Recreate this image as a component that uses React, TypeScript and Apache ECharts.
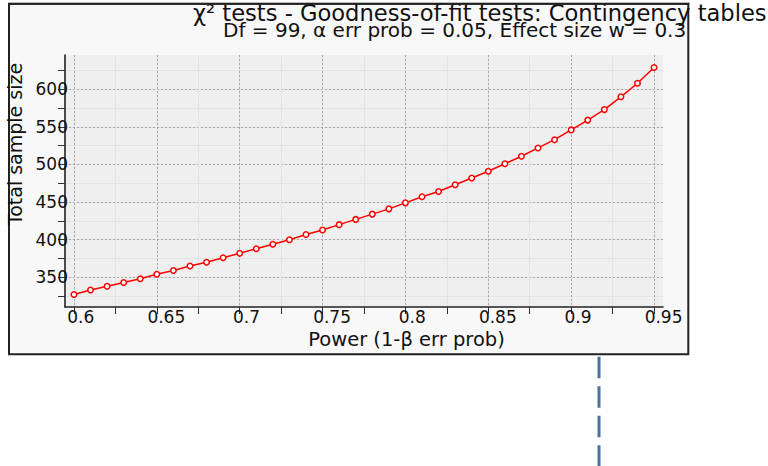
import React, { useEffect, useRef } from 'react';
import * as echarts from 'echarts';

const powerValues = [
  0.6, 0.61, 0.62, 0.63, 0.64, 0.65, 0.66, 0.67, 0.68, 0.69, 0.7, 0.71,
  0.72, 0.73, 0.74, 0.75, 0.76, 0.77, 0.78, 0.79, 0.8, 0.81, 0.82, 0.83,
  0.84, 0.85, 0.86, 0.87, 0.88, 0.89, 0.9, 0.91, 0.92, 0.93, 0.94, 0.95,
];
const sampleSizes = [
  327, 333, 338, 343, 348, 354, 359, 365, 370, 376, 382, 388,
  394, 400, 407, 413, 420, 427, 434, 441, 449, 457, 464, 473,
  482, 491, 501, 511, 522, 533, 546, 559, 573, 590, 608, 629,
];
const xTickLabels = ['0.6', '0.65', '0.7', '0.75', '0.8', '0.85', '0.9', '0.95'];
const xMinorTicks = [0.625, 0.675, 0.725, 0.775, 0.825, 0.875, 0.925];
const yTickLabels = ['350', '400', '450', '500', '550', '600'];
const yMinorTicks = [325, 375, 425, 475, 525, 575, 625];
const xRange = [0.5946, 0.9554];
const yRange = [310.5, 645.6];

const titleLine1 = 'χ² tests - Goodness-of-fit tests: Contingency tables';
const titleLine2 = 'Df = 99, α err prob = 0.05, Effect size w = 0.3';
const xAxisTitle = 'Power (1-β err prob)';
const yAxisTitle = 'Total sample size';

const FONT = 'DejaVu Sans';

export default function App() {
  const ref = useRef<HTMLDivElement>(null);
  useEffect(() => {
    if (!ref.current) return;
    const chart = echarts.init(ref.current, null, { renderer: 'svg' });
    const xMajor = xTickLabels.map((s) => parseFloat(s));
    const yMajor = yTickLabels.map((s) => parseFloat(s));
    const xAll = [...xMajor, ...xMinorTicks].sort((a, b) => a - b);
    const yAll = [...yMajor, ...yMinorTicks].sort((a, b) => a - b);
    const labelOf = (labels: string[], v: number) => {
      const f = labels.find((l) => Math.abs(parseFloat(l) - v) < 1e-9);
      return f !== undefined ? f : String(v);
    };
    const tickFont = { fontFamily: FONT, fontSize: 17, color: '#111' };

    chart.setOption({
      animation: false,
      backgroundColor: '#ffffff',
      title: [
        {
          text: titleLine1,
          left: 193,
          top: 5.2,
          padding: 0,
          textStyle: { fontFamily: FONT, fontSize: 22.6, fontWeight: 'normal', color: '#111', lineHeight: 16 },
        },
        {
          text: titleLine2,
          left: 223,
          top: 22.4,
          padding: 0,
          textStyle: { fontFamily: FONT, fontSize: 20, fontWeight: 'normal', color: '#111', lineHeight: 16 },
        },
      ],
      grid: {
        left: 65,
        top: 55,
        right: 105,
        bottom: 159,
        show: true,
        backgroundColor: '#efefef',
        borderWidth: 0,
        containLabel: false,
        outerBoundsMode: 'none',
      },
      xAxis: [
        {
          type: 'value',
          min: xRange[0],
          max: xRange[1],
          position: 'bottom',
          name: xAxisTitle,
          nameLocation: 'middle',
          nameGap: 14.5,
          nameTextStyle: { fontFamily: FONT, fontSize: 19.5, color: '#111', padding: [0, 0, 0, 85], lineHeight: 19 },
          axisLine: { show: true, onZero: false, lineStyle: { color: '#222', width: 1.6 } },
          axisTick: { show: true, inside: false, length: 7, customValues: xAll, lineStyle: { color: '#333', width: 1 } },
          axisLabel: {
            show: true,
            customValues: xMajor,
            margin: 1,
            ...tickFont,
            formatter: (v: number) => {
              const s = labelOf(xTickLabels, v);
              return s.length <= 3 ? '{a|' + s + '}' : '{b|' + s + '}';
            },
            rich: {
              a: { ...tickFont, padding: [0, 0, 0, 13.5] },
              b: { ...tickFont, padding: [0, 0, 0, 19] },
            },
          },
          splitLine: { show: true, lineStyle: { color: '#e2e2e2', width: 1, type: 'solid' } },
        },
        {
          type: 'value',
          min: xRange[0],
          max: xRange[1],
          position: 'top',
          axisLine: { show: false },
          axisTick: { show: false, customValues: xMajor },
          axisLabel: { show: false },
          splitLine: { show: true, lineStyle: { color: '#a9a9a9', width: 1, type: [2, 2] } },
        },
      ],
      yAxis: [
        {
          type: 'value',
          min: yRange[0],
          max: yRange[1],
          position: 'left',
          name: yAxisTitle,
          nameLocation: 'middle',
          nameRotate: 90,
          nameGap: 40,
          nameTextStyle: { fontFamily: FONT, fontSize: 19, color: '#111', padding: [0, 0, 0, 74], lineHeight: 19 },
          axisLine: { show: true, onZero: false, lineStyle: { color: '#222', width: 1.6 } },
          axisTick: { show: true, inside: false, length: 7, customValues: yAll, lineStyle: { color: '#333', width: 1 } },
          axisLabel: {
            show: true,
            customValues: yMajor,
            margin: -3,
            ...tickFont,
            padding: [0, 0, 12, 0],
            formatter: (v: number) => labelOf(yTickLabels, v),
          },
          splitLine: { show: true, lineStyle: { color: '#e2e2e2', width: 1, type: 'solid' } },
        },
        {
          type: 'value',
          min: yRange[0],
          max: yRange[1],
          position: 'right',
          axisLine: { show: false },
          axisTick: { show: false, customValues: yMajor },
          axisLabel: { show: false },
          splitLine: { show: true, lineStyle: { color: '#a9a9a9', width: 1, type: [2, 2] } },
        },
      ],
      graphic: [
        {
          type: 'rect',
          z: -100,
          silent: true,
          shape: { x: 9, y: 3.7, width: 679.3, height: 350.6 },
          style: { fill: '#f8f8f8', stroke: '#222', lineWidth: 2 },
        },
        {
          type: 'rect',
          z: 100,
          silent: true,
          shape: { x: 0, y: 0, width: 688, height: 2.8 },
          style: { fill: '#ffffff' },
        },
        {
          type: 'line',
          z: 101,
          silent: true,
          shape: { x1: 8, y1: 3.7, x2: 689.3, y2: 3.7 },
          style: { stroke: '#222', lineWidth: 2 },
        },
        {
          type: 'line',
          z: 101,
          silent: true,
          shape: { x1: 599, y1: 356.7, x2: 599, y2: 470 },
          style: { stroke: '#4a72a2', lineWidth: 3, lineDash: [21.5, 8] },
        },
      ],
      series: [
        {
          type: 'line',
          xAxisIndex: 0,
          yAxisIndex: 0,
          data: powerValues.map((p, i) => [p, sampleSizes[i]]),
          symbol: 'circle',
          symbolSize: 5.5,
          showSymbol: true,
          lineStyle: { color: '#ff0000', width: 1.5 },
          itemStyle: { color: '#ffffff', borderColor: '#ff0000', borderWidth: 1.5 },
          z: 5,
        },
      ],
    });
    return () => chart.dispose();
  }, []);
  return (
    <div
      ref={ref}
      style={{ position: 'fixed', left: 0, top: 0, width: 768, height: 466, background: '#fff' }}
    />
  );
}
